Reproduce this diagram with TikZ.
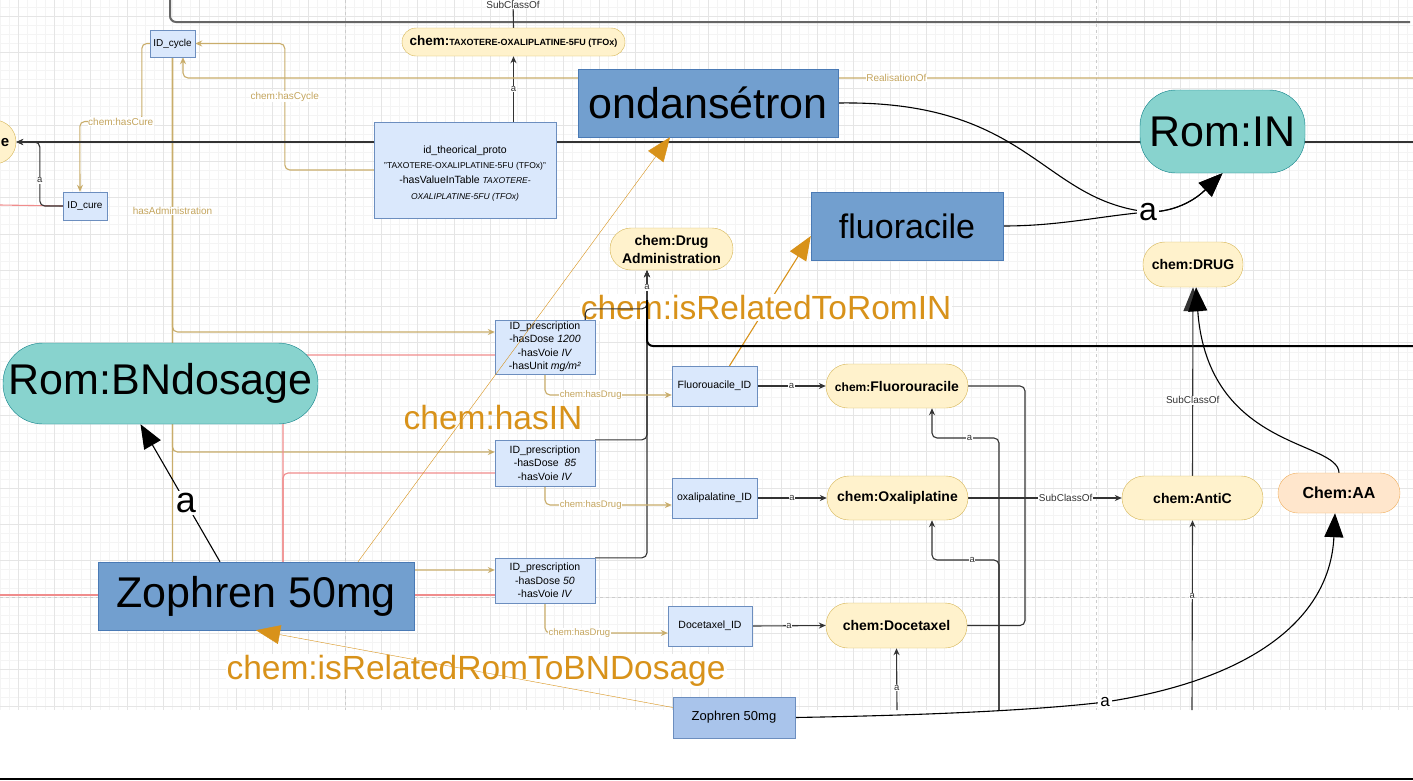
\documentclass[tikz,border=0pt]{standalone}
\usepackage{fontspec}
\setmainfont{Liberation Sans}
\usetikzlibrary{arrows.meta}

\definecolor{idfill}{HTML}{DAE8FC}
\definecolor{idline}{HTML}{6C8EBF}
\definecolor{pillfill}{HTML}{FFF2CC}
\definecolor{pillline}{HTML}{D6B656}
\definecolor{romfill}{HTML}{88D3CE}
\definecolor{romline}{HTML}{0E8088}
\definecolor{drugfill}{HTML}{729FCF}
\definecolor{drugline}{HTML}{4A7AB5}
\definecolor{smallfill}{HTML}{A9C4EB}
\definecolor{aafill}{HTML}{FFE6CC}
\definecolor{aaline}{HTML}{F0B060}
\definecolor{goldline}{HTML}{C9AD6B}
\definecolor{goldtext}{HTML}{C4A55E}
\definecolor{orangeline}{HTML}{D8921A}
\definecolor{redline}{HTML}{F08C8C}
\definecolor{lblgray}{HTML}{333333}
\definecolor{topgray}{HTML}{666666}
\definecolor{gridminor}{HTML}{F4F4F4}
\definecolor{gridmajor}{HTML}{E5E5E5}

\newcommand{\pxfont}[1]{\fontsize{#1}{#1}\selectfont}

\pgfdeclarelayer{grid}
\pgfdeclarelayer{edges}
\pgfsetlayers{grid,edges,main}

\begin{document}
\begin{tikzpicture}[x=1pt, y=-1pt, line width=1pt, >={Stealth[length=7pt,width=6pt]},
  every node/.style={inner sep=1pt},
  idbox/.style={draw=idline, fill=idfill, align=center, font=\fontsize{10.5}{13.5}\selectfont},
  classpill/.style={draw=pillline, fill=pillfill, align=center, font=\bfseries\fontsize{14}{18}\selectfont},
  romnode/.style={draw=romline, fill=romfill, font=\pxfont{43}},
  drugbox/.style={draw=drugline, fill=drugfill, font=\pxfont{43}},
  elbl/.style={fill=white, text=lblgray, font=\pxfont{9.5}, inner sep=0.5pt, sharp corners},
  goldlbl/.style={elbl, text=goldtext, font=\pxfont{10}},
  biglbl/.style={fill=white, text=black, font=\pxfont{36}, inner sep=2pt, sharp corners},
  orangelbl/.style={text=orangeline, font=\pxfont{33.5}, inner sep=1pt},
  blackedge/.style={draw=lblgray, ->, rounded corners=5pt},
  goldedge/.style={draw=goldline, ->, rounded corners=5pt},
  rededge/.style={draw=redline, rounded corners=5pt},
  bigarrow/.style={draw=black, -{Triangle[length=24pt,width=19pt]}},
  orangearrow/.style={draw=orangeline, -{Triangle[length=24pt,width=19pt]}},
  pagebreak/.style={draw=black!20, dashed, line width=0.6pt}
]
\useasboundingbox (0,0) rectangle (1413,780);

% grid of the canvas
\begin{pgfonlayer}{grid}
  \fill[white] (0,0) rectangle (1413,780);
  \foreach \i in {-38,...,117}
    \draw[gridminor, line width=0.6pt] ({345+9.08*\i},0) -- ({345+9.08*\i},710);
  \foreach \j in {-65,...,12}
    \draw[gridminor, line width=0.6pt] (0,{597+9.08*\j}) -- (1413,{597+9.08*\j});
  \foreach \i in {-9,...,29}
    \draw[gridmajor, line width=0.6pt] ({345+36.32*\i},0) -- ({345+36.32*\i},710);
  \foreach \j in {-16,...,3}
    \draw[gridmajor, line width=0.6pt] (0,{597+36.32*\j}) -- (1413,{597+36.32*\j});
  \draw[pagebreak] (345,0) -- (345,710);
  \draw[pagebreak] (1096,0) -- (1096,710);
  \draw[pagebreak] (0,597) -- (1413,597);
  \draw[line width=2pt] (0,779) -- (1413,779);
\end{pgfonlayer}

% free ends
\coordinate (topstart) at (170,0);
\coordinate (topend) at (1410,22);
\coordinate (subtop) at (513,0);
\coordinate (realright) at (1413,78);
\coordinate (linemidr) at (1413,142);
\coordinate (redlefta) at (0,205);
\coordinate (redleftb) at (0,595);
\coordinate (redjoin) at (283,595);
\coordinate (blkstart) at (647,300);
\coordinate (blkend) at (1413,346);
\coordinate (subjoin) at (1025,498);
\coordinate (docebot) at (897,710);
\coordinate (fluobot) at (999,710);
\coordinate (anticbot) at (1192,710);
\coordinate (roma) at (1148,212);
\coordinate (aaa) at (1105,702);

% class and instance nodes
\node[circle, draw=pillline, fill=pillfill, minimum size=44pt, inner sep=0pt] (cureclass) at (-6,142) {};
\node[font=\bfseries\pxfont{15}] (curetxt) at (5,143) {e};
\node[idbox, minimum width=45pt, minimum height=27pt, font=\pxfont{10}] (idcycle) at (172.5,43.5) {ID\_cycle};
\node[idbox, minimum width=44pt, minimum height=28pt, font=\pxfont{10}] (idcure) at (85,206) {ID\_cure};
\node[classpill, rounded corners=14pt, minimum width=223pt, minimum height=28pt] (taxo) at (513.5,42)
  {{\pxfont{13.5}chem:}{\pxfont{9}TAXOTERE-OXALIPLATINE-5FU (TFOx)}};
\node[idbox, minimum width=182pt, minimum height=96pt, font=\fontsize{10.5}{15.3}\selectfont] (proto) at (465,170)
  {\rule{0pt}{14pt}id\_theorical\_proto\\ {\pxfont{8.5}"TAXOTERE-OXALIPLATINE-5FU (TFOx)"}\\
   -hasValueInTable {\itshape\pxfont{8.5}TAXOTERE-}\\ {\itshape\pxfont{8.5}OXALIPLATINE-5FU (TFOx)}};
\node[drugbox, minimum width=260pt, minimum height=68pt] (ondans) at (708,103) {ondansétron};
\node[romnode, rounded corners=36pt, minimum width=165pt, minimum height=83pt] (romin) at (1222.5,131.5) {Rom:IN};
\node[drugbox, minimum width=192pt, minimum height=68pt, font=\pxfont{34}] (fluor) at (907,226) {fluoracile};
\node[classpill, rounded corners=21pt, minimum width=123pt, minimum height=42pt] (drugadm) at (671.5,249) {chem:Drug\\Administration};
\node[classpill, rounded corners=22pt, minimum width=100pt, minimum height=45pt] (drug) at (1193,264.5) {chem:DRUG};
\node[romnode, rounded corners=40pt, minimum width=315pt, minimum height=81pt] (bnd) at (160.5,383.5) {Rom:BNdosage};
\node[idbox, minimum width=100pt, minimum height=54pt] (presc1) at (545,347)
  {ID\_prescription\\-hasDose \textit{1200}\\-hasVoie \textit{IV}\\-hasUnit \textit{mg/m²}};
\node[idbox, minimum width=100pt, minimum height=46pt] (presc2) at (545,463)
  {ID\_prescription\\-hasDose~ \textit{85}\\-hasVoie \textit{IV}};
\node[idbox, minimum width=100pt, minimum height=45pt] (presc3) at (545,580.5)
  {ID\_prescription\\-hasDose \textit{50}\\-hasVoie \textit{IV}};
\node[idbox, minimum width=85pt, minimum height=40pt] (fluoid) at (714.5,386) {Fluorouacile\_ID};
\node[idbox, minimum width=85pt, minimum height=40pt] (oxaid) at (714.5,498) {oxalipalatine\_ID};
\node[idbox, minimum width=84pt, minimum height=40pt] (doceid) at (710,626) {Docetaxel\_ID};
\node[classpill, rounded corners=22pt, minimum width=142pt, minimum height=44pt] (fluorou) at (897,386) {{\pxfont{12}chem:}Fluorouracile};
\node[classpill, rounded corners=22pt, minimum width=141pt, minimum height=44pt] (oxali) at (897.5,498) {chem:Oxaliplatine};
\node[classpill, rounded corners=22pt, minimum width=141pt, minimum height=45pt] (docet) at (896.5,625.5) {chem:Docetaxel};
\node[classpill, rounded corners=22pt, minimum width=141pt, minimum height=44pt] (antic) at (1192.5,498) {chem:AntiC};
\node[classpill, draw=aaline, fill=aafill, rounded corners=20pt, minimum width=122pt, minimum height=40pt, font=\bfseries\pxfont{16}] (aa) at (1339,493) {Chem:AA};
\node[drugbox, minimum width=316pt, minimum height=68pt] (zbig) at (256,596) {Zophren 50mg};
\node[draw=idline, fill=smallfill, minimum width=122pt, minimum height=41pt, font=\pxfont{13}] (zsmall) at (734,717.5) {Zophren 50mg};

\begin{pgfonlayer}{edges}
\begin{scope}[line width=1.1pt]
  % orange link under the gray ones
  \draw[orangearrow] ([xshift=15pt]fluoid.north) -- node[orangelbl, fill=white, pos=0.45] (lblrelin) {chem:isRelatedToRomIN} ([yshift=-10pt]fluor.west);

  % top lines
  \draw[draw=topgray, line width=2pt, rounded corners=6pt] (topstart) |- (topend);
  \draw[draw=lblgray] (taxo.north) -- node[elbl, pos=0.82, font=\pxfont{10}] (lbltop) {SubClassOf} (subtop);
  \draw[blackedge] (proto.north -| taxo.south) -- node[elbl] (lblproto) {a} (taxo.south);

  % cycle and cure
  \draw[goldedge] (realright) -| node[goldlbl, pos=0.21] (lblreal) {RealisationOf} ([xshift=10.5pt]idcycle.south);
  \draw[goldedge] (proto.west) -- ++(-89,0) |- node[goldlbl, pos=0.29] (lblcycle) {chem:hasCycle} (idcycle.east);
  \draw[goldedge] (idcycle.west) -- ++(-8,0) -- ++(0,78) -- node[goldlbl, pos=0.34] (lblcure) {chem:hasCure} ++(-62,0) -- ([xshift=-5pt]idcure.north);

  % administrations
  \draw[goldedge] (idcycle.south) |- ([yshift=15pt]presc1.west);
  \draw[goldedge] (idcycle.south) |- ([yshift=11pt]presc2.west);
  \draw[goldedge] (idcycle.south) |- node[goldlbl, pos=0.15] (lbladmin) {hasAdministration} ([yshift=10.5pt]presc3.west);

  % red links
  \draw[rededge] (redlefta) -- (idcure.west);
  \draw[rededge] (redleftb) -- ([yshift=-14.5pt]presc3.west);
  \draw[rededge] (redjoin) |- ([yshift=-10pt]presc2.west);
  \draw[rededge] (redjoin) |- ([yshift=-8pt]presc1.west);

  % dark line to the cure class
  \draw[draw=lblgray, line width=2pt, ->] (linemidr) -- (cureclass.east);
  \draw[blackedge] (idcure.west) -- ++(-23,0) |- node[elbl, pos=0.2] (lblcurea) {a} (cureclass.east);

  % prescriptions to drug administration
  \draw[blackedge] ([xshift=-10pt]presc1.north east) -- ++(0,-11) -| ([xshift=-24.5pt]drugadm.south);
  \draw[blackedge] (presc2.north east) -| ([xshift=-24.5pt]drugadm.south);
  \draw[blackedge] (presc3.north east) -| node[elbl, pos=0.97] (lbldrugadm) {a} ([xshift=-24.5pt]drugadm.south);
  \draw[line width=2pt, rounded corners=6pt] (blkstart) |- (blkend);

  % drugs
  \draw[goldedge] (presc1.south) |- node[goldlbl, pos=0.68, font=\pxfont{9.5}] (lbldrug1) {chem:hasDrug} ([yshift=-9pt]fluoid.west);
  \draw[goldedge] (presc2.south) |- node[goldlbl, pos=0.68, font=\pxfont{9.5}] (lbldrug2) {chem:hasDrug} ([yshift=-7pt]oxaid.west);
  \draw[goldedge] (presc3.south) |- node[goldlbl, pos=0.64, font=\pxfont{9.5}] (lbldrug3) {chem:hasDrug} ([yshift=-7pt]doceid.west);
  \draw[blackedge] (fluoid.east) -- node[elbl] (lblfa) {a} (fluorou.west);
  \draw[blackedge] (oxaid.east) -- node[elbl] (lbloa) {a} (oxali.west);
  \draw[blackedge] (doceid.east) -- node[elbl] (lblda) {a} (docet.west);

  % subclasses
  \draw[draw=lblgray, rounded corners=5pt] (fluorou.east) -| (subjoin);
  \draw[draw=lblgray, rounded corners=5pt] (docet.east) -| (subjoin);
  \draw[blackedge] (oxali.east) -- (subjoin) -- node[elbl, pos=0.42, font=\pxfont{10}] (lblsub) {SubClassOf} (antic.west);
  \draw[bigarrow, draw=lblgray] (antic.north) -- node[elbl, pos=0.4, font=\pxfont{10}] (lblsubb) {SubClassOf} (drug.south);
  \draw[bigarrow] (aa.north) .. controls (1338,440) and (1208,450) .. ([xshift=3pt]drug.south);

  % from below
  \draw[blackedge] (docebot) -- node[elbl, pos=0.35] (lblbota) {a} (docet.south);
  \draw[blackedge] (fluobot) -- ++(0,-272) -| node[elbl, pos=0.22] (lblbotb) {a} ([xshift=35pt]fluorou.south);
  \draw[blackedge] (fluobot) -- ++(0,-150) -| node[elbl, pos=0.2] (lblbotc) {a} ([xshift=34.5pt]oxali.south);
  \draw[blackedge] (anticbot) -- node[elbl, pos=0.6] (lblbotd) {a} (antic.south);

  % big a links
  \draw[bigarrow] ([xshift=-36pt]zbig.north) -- node[biglbl, pos=0.43] (lblbnd) {a} ([xshift=-20pt]bnd.south);
  \draw[bigarrow] (ondans.east) .. controls (1030,100) and (1040,200) .. (roma) .. controls (1185,212) and (1205,190) .. (romin.south);
  \draw[bigarrow] (fluor.east) .. controls (1060,226) and (1100,216) .. (roma) node[biglbl, font=\pxfont{32}] (lblrom) {a} .. controls (1185,212) and (1205,190) .. (romin.south);
  \draw[bigarrow] (zsmall.east) .. controls (1000,714) and (1080,705) .. (aaa) node[biglbl, font=\pxfont{17}] (lblaa) {a} .. controls (1250,680) and (1330,620) .. ([xshift=-4pt]aa.south);
\end{scope}
\end{pgfonlayer}

% orange links on top
\draw[orangearrow] ([xshift=102pt]zbig.north) -- ([xshift=-38pt]ondans.south);
\node[orangelbl] (lblhasin) at (493,418) {chem:hasIN};
\node[orangelbl, fill=white] (lblrombnd) at (476,671) {chem:isRelatedRomToBNDosage};
\draw[orangearrow] ([yshift=10pt]zsmall.west) -- (zbig.south);
\end{tikzpicture}
\end{document}
